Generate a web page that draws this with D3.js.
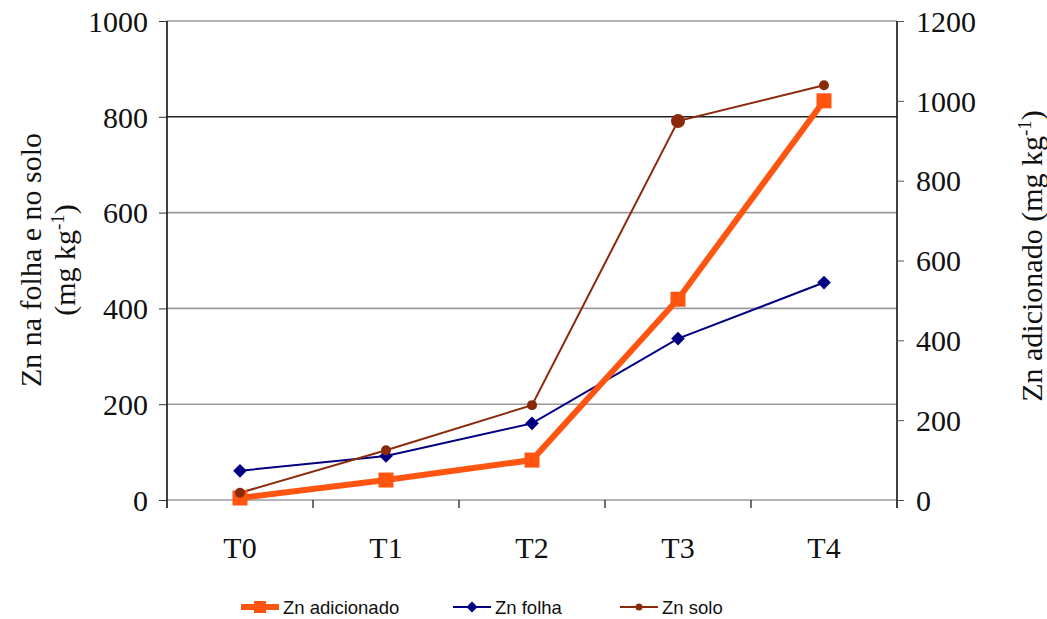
<!DOCTYPE html>
<html>
<head>
<meta charset="utf-8">
<script src="https://cdn.jsdelivr.net/npm/d3@7"></script>
<style>
  body { margin: 0; background: #fff; }
  .tick text { font-family: "Liberation Serif", "Times New Roman", serif; }
</style>
</head>
<body>
<svg id="chart" width="1047" height="619"></svg>
<script>
// dados
var categorias = ["T0", "T1", "T2", "T3", "T4"]
var znAdicionado = [5, 50, 100, 503, 1000]   // eixo da direita
var znFolha = [61, 92, 160, 337, 454]        // eixo da esquerda
var znSolo = [15, 104, 198, 791, 866]        // eixo da esquerda
var ticksEsq = [0, 200, 400, 600, 800, 1000]
var ticksDir = [0, 200, 400, 600, 800, 1000, 1200]

var svg = d3.select("#chart")
var mLeft = 167, mRight = 897, mTop = 21, mBottom = 500
var fs = 30

var x = d3.scaleBand().domain(categorias).range([mLeft, mRight])
var yL = d3.scaleLinear().domain([0, 1000]).range([mBottom, mTop])
var yR = d3.scaleLinear().domain([0, 1200]).range([mBottom, mTop])

// linhas de grade
svg.append("g").selectAll("line")
  .data(ticksEsq)
  .enter().append("line")
  .attr("x1", mLeft).attr("x2", mRight)
  .attr("y1", function(d) { return yL(d) })
  .attr("y2", function(d) { return yL(d) })
  .attr("stroke", function(d) { return d == 800 ? "#222" : "#9a9a9a" })
  .attr("stroke-width", 1.6)

var serif = '"Liberation Serif", "Times New Roman", serif'

// eixo esquerdo
var axL = svg.append("g")
  .attr("transform", "translate(" + mLeft + ",0)")
  .call(d3.axisLeft(yL).tickValues(ticksEsq).tickFormat(d3.format("d")).tickSize(8).tickPadding(11).tickSizeOuter(0))
axL.selectAll("text").attr("font-size", fs).attr("fill", "#111").attr("dy", "0.34em")
axL.select(".domain").attr("stroke", "#111").attr("stroke-width", 1.6).attr("d", "M0," + mTop + "V" + (mBottom + 8))
axL.selectAll(".tick line").attr("stroke", "#333")

// eixo direito
var axR = svg.append("g")
  .attr("transform", "translate(" + mRight + ",0)")
  .call(d3.axisRight(yR).tickValues(ticksDir).tickFormat(d3.format("d")).tickSize(7).tickPadding(12).tickSizeOuter(0))
axR.selectAll("text").attr("font-size", fs).attr("fill", "#111").attr("dy", "0.34em")
axR.select(".domain").attr("stroke", "#111").attr("stroke-width", 1.6).attr("d", "M0," + mTop + "V" + (mBottom + 8))
axR.selectAll(".tick line").attr("stroke", "#555")

// eixo x (ticks nas divisões das categorias)
svg.append("g").selectAll("line")
  .data(categorias.slice(1))
  .enter().append("line")
  .attr("x1", function(d) { return x(d) }).attr("x2", function(d) { return x(d) })
  .attr("y1", mBottom).attr("y2", mBottom + 8)
  .attr("stroke", "#222").attr("stroke-width", 1.3)

svg.append("g").selectAll("text")
  .data(categorias)
  .enter().append("text")
  .attr("x", function(d) { return x(d) + x.bandwidth() / 2 })
  .attr("y", 558)
  .attr("text-anchor", "middle")
  .attr("font-family", serif).attr("font-size", fs).attr("fill", "#111")
  .text(function(d) { return d })

// títulos dos eixos
var tL = svg.append("text")
  .attr("transform", "translate(0,260) rotate(-90)")
  .attr("text-anchor", "middle")
  .attr("font-family", serif).attr("font-size", fs).attr("fill", "#111")
tL.append("tspan").attr("x", 0).attr("y", 41).text("Zn na folha e no solo")
var t2 = tL.append("tspan").attr("x", 0).attr("y", 75)
t2.append("tspan").text("(mg kg")
t2.append("tspan").attr("font-size", 19).attr("dy", -11).text("-1")
t2.append("tspan").attr("dy", 11).text(")")

var tR = svg.append("text")
  .attr("transform", "translate(1042,256) rotate(-90)")
  .attr("text-anchor", "middle")
  .attr("font-family", serif).attr("font-size", fs).attr("fill", "#111")
tR.append("tspan").text("Zn adicionado (mg kg")
tR.append("tspan").attr("font-size", 19).attr("dy", -11).text("-1")
tR.append("tspan").attr("dy", 11).text(")")

// séries
var cx = function(d, i) { return x(categorias[i]) + x.bandwidth() / 2 }

function serie(valores, escala, cor, largura) {
  var line = d3.line().x(cx).y(function(d) { return escala(d) })
  svg.append("path").datum(valores)
    .attr("d", line).attr("fill", "none")
    .attr("stroke", cor).attr("stroke-width", largura)
    .attr("stroke-linejoin", "miter")
}

serie(znFolha, yL, "#000080", 2)
serie(znSolo, yL, "#8b2a0a", 2)
serie(znAdicionado, yR, "#ff5511", 6)

svg.append("g").selectAll("rect")
  .data(znAdicionado)
  .enter().append("rect")
  .attr("x", function(d, i) { return cx(d, i) - 7.5 })
  .attr("y", function(d) { return yR(d) - 7.5 })
  .attr("width", 15).attr("height", 15)
  .attr("fill", "#ff5511")

svg.append("g").selectAll("path")
  .data(znFolha)
  .enter().append("path")
  .attr("d", d3.symbol(d3.symbolDiamond2, 120))
  .attr("transform", function(d, i) { return "translate(" + cx(d, i) + "," + yL(d) + ")" })
  .attr("fill", "#000080")

svg.append("g").selectAll("circle")
  .data(znSolo)
  .enter().append("circle")
  .attr("cx", cx)
  .attr("cy", function(d) { return yL(d) })
  .attr("r", function(d, i) { return i == 3 ? 7 : 5 })
  .attr("fill", "#8b2a0a")

// legenda
var legenda = [
  { nome: "Zn adicionado", cor: "#ff5511", x: 241, largura: 6, marca: "quadrado" },
  { nome: "Zn folha", cor: "#000080", x: 453, largura: 2, marca: "diamante" },
  { nome: "Zn solo", cor: "#8b2a0a", x: 620, largura: 2, marca: "circulo" }
]
var lg = svg.append("g").selectAll("g")
  .data(legenda)
  .enter().append("g")
  .attr("transform", function(d) { return "translate(" + d.x + ",607)" })

lg.append("line")
  .attr("x1", 0).attr("x2", 38)
  .attr("stroke", function(d) { return d.cor })
  .attr("stroke-width", function(d) { return d.largura })

lg.each(function(d) {
  var g = d3.select(this)
  if (d.marca == "quadrado") {
    g.append("rect").attr("x", 13).attr("y", -6).attr("width", 12).attr("height", 12).attr("fill", d.cor)
  } else if (d.marca == "diamante") {
    g.append("path").attr("d", d3.symbol(d3.symbolDiamond2, 80))
      .attr("transform", "translate(19,0)").attr("fill", d.cor)
  } else {
    g.append("circle").attr("cx", 19).attr("r", 3.5).attr("fill", d.cor)
  }
})

lg.append("text")
  .attr("x", 42).attr("y", 7)
  .attr("font-family", '"Liberation Sans", Arial, sans-serif')
  .attr("font-size", 18.5).attr("fill", "#111")
  .text(function(d) { return d.nome })
</script>
</body>
</html>
